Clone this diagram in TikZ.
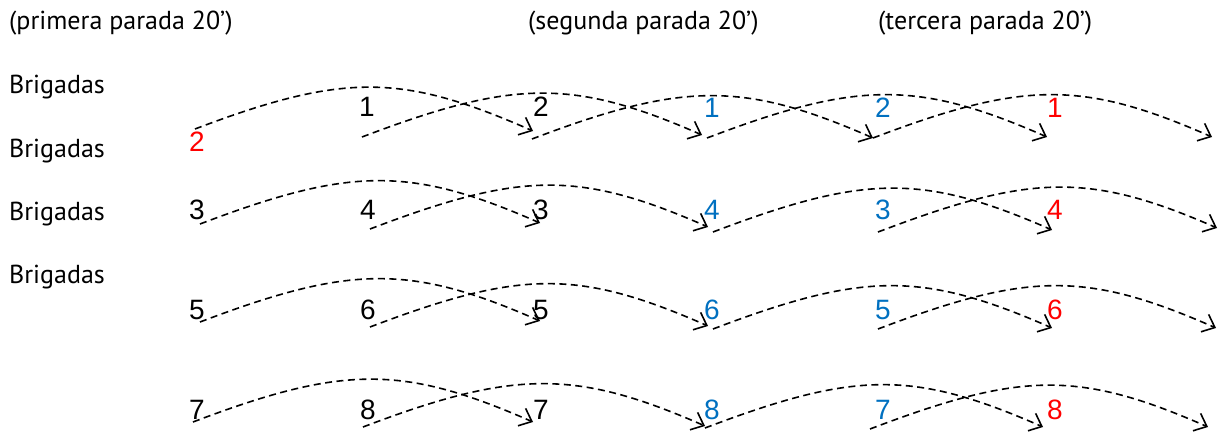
\documentclass[tikz,border=0pt]{standalone}
\usepackage{fontspec}
\setmainfont{PT Sans}
\newfontfamily\numfont{Liberation Sans}
\usetikzlibrary{arrows.meta}
\definecolor{nblue}{HTML}{0070C0}
\definecolor{nred}{HTML}{FF0000}
\tikzset{
  hdr/.style={anchor=base west, inner sep=0pt, font=\fontsize{26}{30}\selectfont},
  num/.style={anchor=center, inner sep=0pt, font=\numfont\fontsize{28}{30}\selectfont},
  hop/.style={draw=black, line width=1.6pt, dash pattern=on 7pt off 4.5pt,
    -{Straight Barb[length=11pt,width=19pt,line width=1.6pt]}},
}
\newcommand{\hoparc}[2]{\draw[hop] (#1) .. controls +(150,-57) and +(-130,-57) .. (#2);}
\begin{document}
\begin{tikzpicture}[x=1pt,y=-1pt]
\useasboundingbox (0,0) rectangle (1225,436);
% headers
\node[hdr] (h1) at (9,30) {(primera parada 20’)};
\node[hdr] (h2) at (528,30) {(segunda parada 20’)};
\node[hdr] (h3) at (878,30) {(tercera parada 20’)};
\node[hdr] (b1) at (9,93) {Brigadas};
\node[hdr] (b2) at (9,157) {Brigadas};
\node[hdr] (b3) at (9,220) {Brigadas};
\node[hdr] (b4) at (9,283) {Brigadas};
% row 1 labels
\node[num, text=nred] (r1c1) at (197,142) {2};
\node[num] (r1c2) at (367,107) {1};
\node[num] (r1c3) at (541,107) {2};
\node[num, text=nblue] (r1c4) at (712,108) {1};
\node[num, text=nblue] (r1c5) at (883,108) {2};
\node[num, text=nred] (r1c6) at (1055,108) {1};
% row 2 labels
\node[num] (r2c1) at (197,210) {3};
\node[num] (r2c2) at (368,210) {4};
\node[num] (r2c3) at (541,210) {3};
\node[num, text=nblue] (r2c4) at (712,210) {4};
\node[num, text=nblue] (r2c5) at (883,210) {3};
\node[num, text=nred] (r2c6) at (1055,210) {4};
% row 3 labels
\node[num] (r3c1) at (197,310) {5};
\node[num] (r3c2) at (368,310) {6};
\node[num] (r3c3) at (541,310) {5};
\node[num, text=nblue] (r3c4) at (712,310) {6};
\node[num, text=nblue] (r3c5) at (883,310) {5};
\node[num, text=nred] (r3c6) at (1055,310) {6};
% row 4 labels
\node[num] (r4c1) at (197,410) {7};
\node[num] (r4c2) at (368,410) {8};
\node[num] (r4c3) at (541,410) {7};
\node[num, text=nblue] (r4c4) at (712,410) {8};
\node[num, text=nblue] (r4c5) at (883,410) {7};
\node[num, text=nred] (r4c6) at (1055,410) {8};
% arc end points
\coordinate (a1s) at (195,129); \coordinate (a1e) at (533,131);
\coordinate (a2s) at (362,137); \coordinate (a2e) at (702,135);
\coordinate (a3s) at (532,139); \coordinate (a3e) at (873,138);
\coordinate (a4s) at (707,138); \coordinate (a4e) at (1047,137);
\coordinate (a5s) at (873,138); \coordinate (a5e) at (1212,137);
\coordinate (b1s) at (200,224); \coordinate (b1e) at (540,223);
\coordinate (b2s) at (370,229); \coordinate (b2e) at (708,227);
\coordinate (b3s) at (713,232); \coordinate (b3e) at (1052,230);
\coordinate (b4s) at (878,232); \coordinate (b4e) at (1217,228);
\coordinate (c1s) at (200,322); \coordinate (c1e) at (540,321);
\coordinate (c2s) at (370,327); \coordinate (c2e) at (708,326);
\coordinate (c3s) at (713,329); \coordinate (c3e) at (1052,328);
\coordinate (c4s) at (878,329); \coordinate (c4e) at (1216,328);
\coordinate (d1s) at (193,422); \coordinate (d1e) at (533,422);
\coordinate (d2s) at (363,427); \coordinate (d2e) at (705,426);
\coordinate (d3s) at (705,428); \coordinate (d3e) at (1043,427);
\coordinate (d4s) at (870,429); \coordinate (d4e) at (1208,427);
% arcs
\hoparc{a1s}{a1e}\hoparc{a2s}{a2e}\hoparc{a3s}{a3e}\hoparc{a4s}{a4e}\hoparc{a5s}{a5e}
\hoparc{b1s}{b1e}\hoparc{b2s}{b2e}\hoparc{b3s}{b3e}\hoparc{b4s}{b4e}
\hoparc{c1s}{c1e}\hoparc{c2s}{c2e}\hoparc{c3s}{c3e}\hoparc{c4s}{c4e}
\hoparc{d1s}{d1e}\hoparc{d2s}{d2e}\hoparc{d3s}{d3e}\hoparc{d4s}{d4e}
\end{tikzpicture}
\end{document}
